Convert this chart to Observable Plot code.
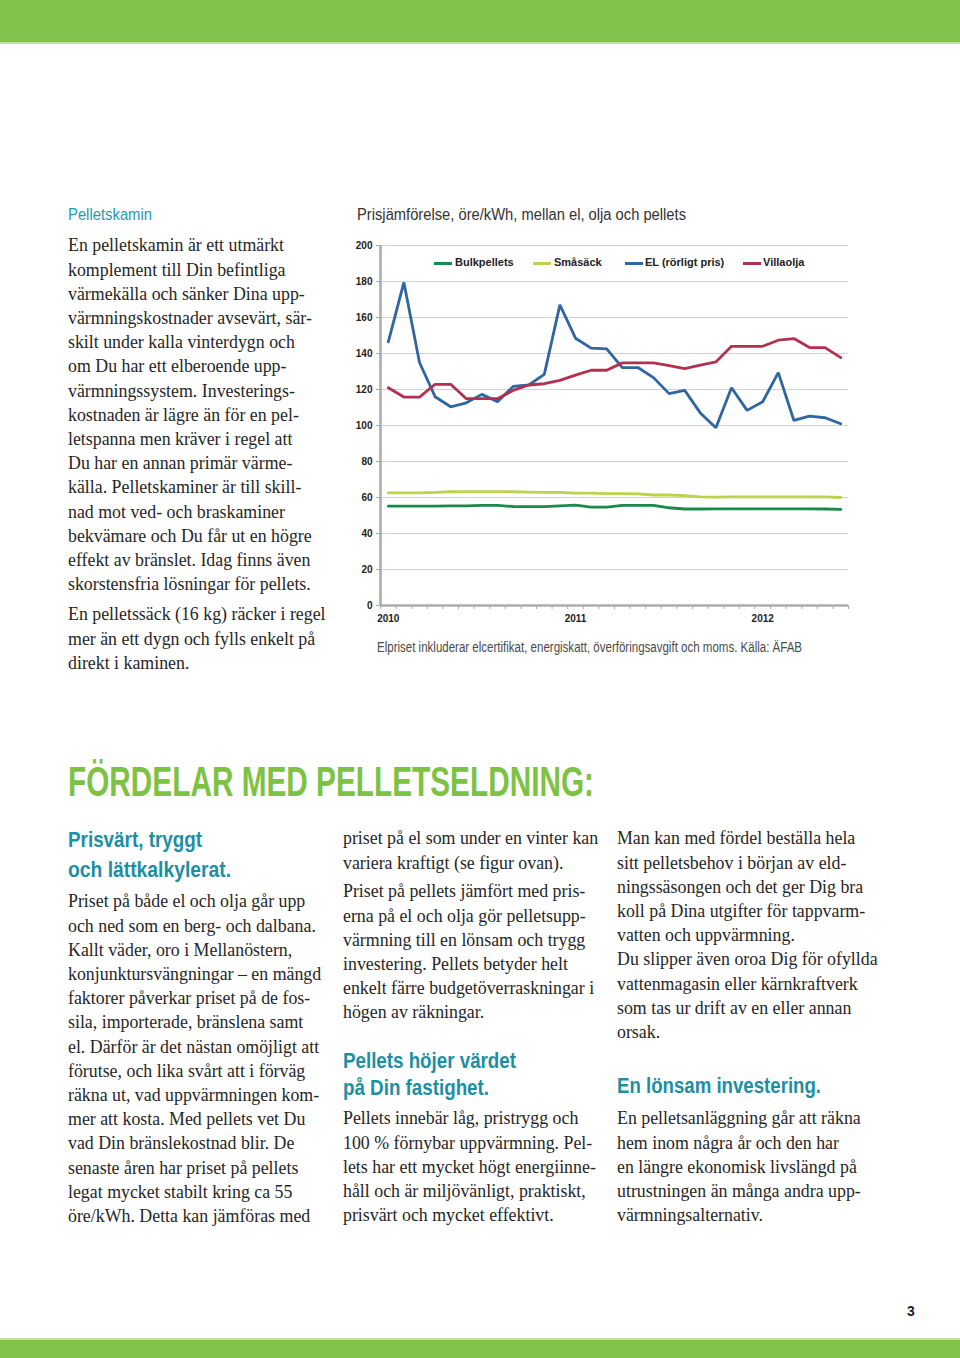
<!DOCTYPE html>
<html>
<head>
<meta charset="utf-8">
<script src="https://cdn.jsdelivr.net/npm/d3@7"></script>
<script src="https://cdn.jsdelivr.net/npm/@observablehq/plot@0.6"></script>
<style>
  html, body { margin: 0; padding: 0; background: #fff; }
  body { width: 960px; height: 1358px; position: relative; overflow: hidden; }
  .abs { position: absolute; white-space: nowrap; }
  .topbar { position: absolute; left: 0; top: 0; width: 960px; height: 42px; background: #80c24c; border-bottom: 2px solid #bfe3a3; }
  .botbar { position: absolute; left: 0; top: 1338px; width: 960px; height: 20px; background: #80c24c; border-top: 2px solid #bfe3a3; }
  .cond { font-family: "Liberation Sans Narrow", "Liberation Sans", Arial, sans-serif; display: inline-block; transform-origin: left center; }
  .body { font-family: "Liberation Serif", "DejaVu Serif", serif; font-size: 18px; line-height: 24.2px; color: #262626; transform-origin: left top; }
  .teal { color: #1b8fa3; font-weight: bold; }
  .legend { position: absolute; font-family: "Liberation Sans", Arial, sans-serif; font-weight: bold; font-size: 11px; color: #222; }
  .legline { position: absolute; height: 2.6px; width: 18px; }
</style>
</head>
<body>
<div class="topbar"></div>

<!-- Left column -->
<div class="abs" style="left:68px; top:205px; line-height:20px;"><span class="cond fit" data-w="84" style="font-size:16px; color:#1f9bb0;">Pelletskamin</span></div>
<div class="abs body" style="left:68px; top:233.4px;">En pelletskamin är ett utmärkt<br>komplement till Din befintliga<br>värmekälla och sänker Dina upp-<br>värmningskostnader avsevärt, sär-<br>skilt under kalla vinterdygn och<br>om Du har ett elberoende upp-<br>värmningssystem. Investerings-<br>kostnaden är lägre än för en pel-<br>letspanna men kräver i regel att<br>Du har en annan primär värme-<br>källa. Pelletskaminer är till skill-<br>nad mot ved- och braskaminer<br>bekvämare och Du får ut en högre<br>effekt av bränslet. Idag finns även<br>skorstensfria lösningar för pellets.</div>
<div class="abs body" style="left:68px; top:602.4px;">En pelletssäck (16 kg) räcker i regel<br>mer än ett dygn och fylls enkelt på<br>direkt i kaminen.</div>

<!-- Chart -->
<div class="abs" style="left:357px; top:205px; line-height:20px;"><span class="cond fit" data-w="329" style="font-size:16px; color:#333;">Prisjämförelse, öre/kWh, mellan el, olja och pellets</span></div>
<div id="chart" class="abs" style="left:340px; top:230px; width:520px; height:400px;"></div>
<div id="legend"></div>
<div class="abs" style="left:377px; top:638px; line-height:18px;"><span class="cond fit" data-w="425" style="font-size:14px; color:#4a4a4a;">Elpriset inkluderar elcertifikat, energiskatt, överföringsavgift och moms. Källa: ÄFAB</span></div>

<!-- Big heading -->
<div class="abs" style="left:68px; top:756px; line-height:50px;"><span class="cond fit" data-w="526" style="font-size:43px; font-weight:bold; color:#7dc243;">FÖRDELAR MED PELLETSELDNING:</span></div>

<!-- Column 1 -->
<div class="abs" style="left:68px; top:826px; line-height:28px;"><span class="cond fit teal" data-w="134" style="font-size:22px;">Prisvärt, tryggt</span><br><span class="cond fit teal" data-w="163" style="font-size:22px;">och lättkalkylerat.</span></div>
<div class="abs body" style="left:68px; top:889.4px;">Priset på både el och olja går upp<br>och ned som en berg- och dalbana.<br>Kallt väder, oro i Mellanöstern,<br>konjunktursvängningar – en mängd<br>faktorer påverkar priset på de fos-<br>sila, importerade, bränslena samt<br>el. Därför är det nästan omöjligt att<br>förutse, och lika svårt att i förväg<br>räkna ut, vad uppvärmningen kom-<br>mer att kosta. Med pellets vet Du<br>vad Din bränslekostnad blir. De<br>senaste åren har priset på pellets<br>legat mycket stabilt kring ca 55<br>öre/kWh. Detta kan jämföras med</div>

<!-- Column 2 -->
<div class="abs body" style="left:343px; top:826.4px;">priset på el som under en vinter kan<br>variera kraftigt (se figur ovan).</div>
<div class="abs body" style="left:343px; top:879.4px;">Priset på pellets jämfört med pris-<br>erna på el och olja gör pelletsupp-<br>värmning till en lönsam och trygg<br>investering. Pellets betyder helt<br>enkelt färre budgetöverraskningar i<br>högen av räkningar.</div>
<div class="abs" style="left:343px; top:1048px; line-height:25px;"><span class="cond fit teal" data-w="173" style="font-size:22px;">Pellets höjer värdet</span><br><span class="cond fit teal" data-w="146" style="font-size:22px;">på Din fastighet.</span></div>
<div class="abs body" style="left:343px; top:1106.4px;">Pellets innebär låg, pristrygg och<br>100 % förnybar uppvärmning. Pel-<br>lets har ett mycket högt energiinne-<br>håll och är miljövänligt, praktiskt,<br>prisvärt och mycket effektivt.</div>

<!-- Column 3 -->
<div class="abs body" style="left:617px; top:826.4px;">Man kan med fördel beställa hela<br>sitt pelletsbehov i början av eld-<br>ningssäsongen och det ger Dig bra<br>koll på Dina utgifter för tappvarm-<br>vatten och uppvärmning.<br>Du slipper även oroa Dig för ofyllda<br>vattenmagasin eller kärnkraftverk<br>som tas ur drift av en eller annan<br>orsak.</div>
<div class="abs" style="left:617px; top:1073px; line-height:26px;"><span class="cond fit teal" data-w="204" style="font-size:22px;">En lönsam investering.</span></div>
<div class="abs body" style="left:617px; top:1106.4px;">En pelletsanläggning går att räkna<br>hem inom några år och den har<br>en längre ekonomisk livslängd på<br>utrustningen än många andra upp-<br>värmningsalternativ.</div>

<div class="abs" style="left:907px; top:1303px; font-family:'Liberation Sans', Arial, sans-serif; font-weight:bold; font-size:14px; color:#222;">3</div>
<div class="botbar"></div>

<script>
// ---- Data (öre/kWh, monthly Jan 2010 – Jun 2012) ----
const months = [
  "2010-01","2010-02","2010-03","2010-04","2010-05","2010-06",
  "2010-07","2010-08","2010-09","2010-10","2010-11","2010-12",
  "2011-01","2011-02","2011-03","2011-04","2011-05","2011-06",
  "2011-07","2011-08","2011-09","2011-10","2011-11","2011-12",
  "2012-01","2012-02","2012-03","2012-04","2012-05","2012-06"
];
const yearTickMonths = ["2010-01", "2011-01", "2012-01"];
const yearLabels = ["2010", "2011", "2012"];
const yTicks = [0, 20, 40, 60, 80, 100, 120, 140, 160, 180, 200];

const seriesNames = ["Bulkpellets", "Småsäck", "EL (rörligt pris)", "Villaolja"];
const seriesColors = ["#1a8a4a", "#b8d44a", "#2f65a0", "#b3304f"];

const bulkpellets = [55.2, 55.2, 55.2, 55.2, 55.3, 55.4, 55.6, 55.6, 55.0, 54.9,
                     54.9, 55.4, 55.8, 54.7, 54.7, 55.6, 55.6, 55.6, 54.3, 53.6,
                     53.6, 53.7, 53.7, 53.7, 53.7, 53.7, 53.7, 53.7, 53.6, 53.4];
const smasack     = [62.6, 62.6, 62.6, 62.8, 63.2, 63.3, 63.3, 63.3, 63.2, 63.0,
                     62.8, 62.8, 62.4, 62.4, 62.2, 62.2, 62.0, 61.4, 61.4, 61.0,
                     60.4, 60.2, 60.4, 60.4, 60.4, 60.4, 60.4, 60.4, 60.3, 60.0];
const el          = [146.5, 179.5, 135.0, 116.0, 110.4, 112.6, 117.3, 113.2, 121.7, 122.5,
                     128.4, 167.0, 148.5, 143.0, 142.6, 132.2, 132.2, 126.6, 117.7, 119.5,
                     107.0, 98.7, 121.0, 108.4, 113.2, 129.4, 102.8, 105.2, 104.3, 101.0];
const villaolja   = [121.0, 115.8, 115.8, 122.9, 122.9, 114.9, 114.9, 114.9, 119.5, 122.5,
                     123.2, 125.1, 128.0, 130.7, 130.7, 134.8, 134.8, 134.8, 133.3, 131.6,
                     133.5, 135.3, 144.0, 144.0, 144.0, 147.4, 148.3, 143.3, 143.3, 137.7];

const seriesValues = [bulkpellets, smasack, el, villaolja];
const rows = seriesNames.flatMap((name, s) =>
  months.map((m, i) => ({series: name, month: m, i: months.indexOf(m), value: seriesValues[s][i]})));

const boundaries = d3.range(-0.5, months.length, 1);
const yearIdx = yearTickMonths.map(m => months.indexOf(m));

const chart = Plot.plot({
  width: 520,
  height: 400,
  marginLeft: 40,
  marginRight: 12,
  marginTop: 15,
  marginBottom: 25,
  x: {type: "linear", domain: [-0.5, months.length - 0.5], label: null},
  y: {domain: [0, 200], label: null},
  color: {domain: seriesNames, range: seriesColors},
  style: {fontFamily: "'Liberation Sans', Arial, sans-serif", background: "transparent", overflow: "visible"},
  marks: [
    Plot.gridY(yTicks, {stroke: "#d2d2d2", strokeOpacity: 1, strokeWidth: 1.2}),
    Plot.axisY(yTicks, {tickSize: 4, tickPadding: 4, fontWeight: "bold", fontSize: 10, fill: "#222", stroke: "#aaa", label: null}),
    Plot.axisX(boundaries, {tickSize: 4, tickFormat: () => "", stroke: "#aaa", label: null}),
    Plot.axisX(yearIdx, {tickSize: 0, tickPadding: 9, tickFormat: d => yearLabels[yearIdx.indexOf(d)], fontWeight: "bold", fontSize: 10, fill: "#222", label: null}),
    Plot.ruleX([-0.5], {stroke: "#acacac", strokeWidth: 2.6}),
    Plot.ruleY([0], {stroke: "#acacac", strokeWidth: 2.6}),
    Plot.line(rows, {x: "i", y: "value", z: "series", stroke: "series", strokeWidth: 2.8, strokeLinejoin: "miter"})
  ]
});
document.getElementById("chart").appendChild(chart);

// Legend (HTML overlay inside the plot area)
const legendPos = [
  {line: 434, text: 455},
  {line: 533, text: 554},
  {line: 625, text: 645},
  {line: 743, text: 763}
];
const legend = document.getElementById("legend");
seriesNames.forEach((name, k) => {
  const ln = document.createElement("div");
  ln.className = "legline";
  ln.style.left = legendPos[k].line + "px";
  ln.style.top = "262px";
  ln.style.background = seriesColors[k];
  legend.appendChild(ln);
  const tx = document.createElement("div");
  tx.className = "legend";
  tx.style.left = legendPos[k].text + "px";
  tx.style.top = "256px";
  tx.textContent = name;
  legend.appendChild(tx);
});

function layoutText() {
  document.querySelectorAll(".fit").forEach(el => {
    el.style.transform = "none";
    const w = el.getBoundingClientRect().width;
    const target = +el.dataset.w;
    if (w > 0) el.style.transform = `scaleX(${target / w})`;
  });
  // uniform horizontal scaling of serif body text to match the reference measure
  const probe = document.createElement("span");
  probe.className = "body";
  probe.style.position = "absolute";
  probe.style.visibility = "hidden";
  probe.style.whiteSpace = "nowrap";
  probe.textContent = "En pelletskamin är ett utmärkt";
  document.body.appendChild(probe);
  const r = 216 / probe.getBoundingClientRect().width;
  probe.remove();
  document.querySelectorAll("div.body").forEach(el => { el.style.transform = `scaleX(${r})`; });
}
layoutText();
if (document.fonts && document.fonts.ready) document.fonts.ready.then(layoutText);
</script>
</body>
</html>
